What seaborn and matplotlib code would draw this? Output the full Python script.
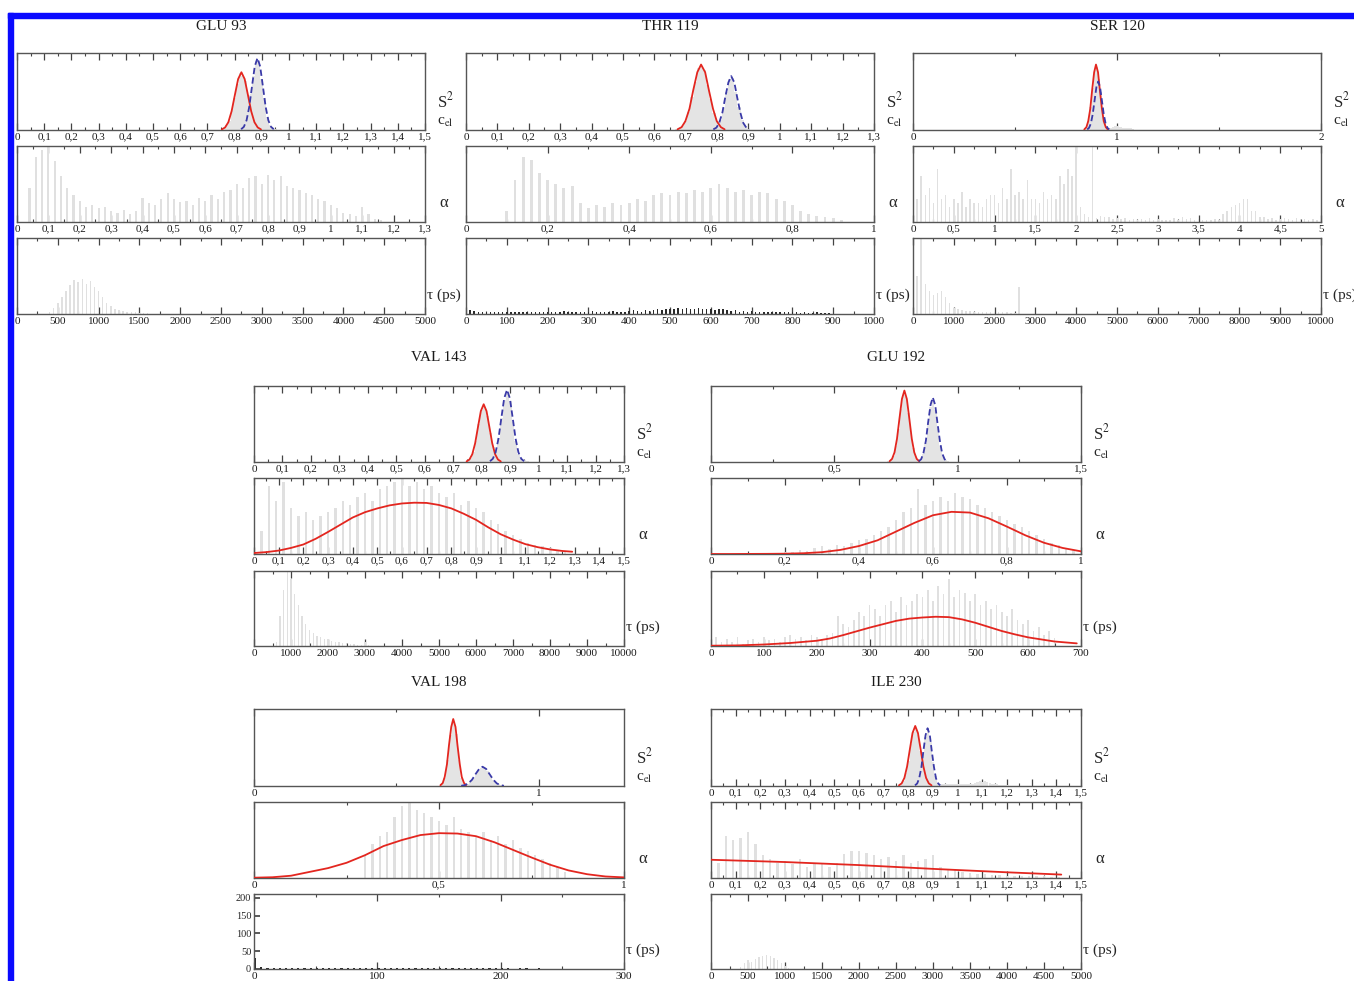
import numpy as np
import pandas as pd
import matplotlib.pyplot as plt
from matplotlib.patches import Rectangle
from matplotlib.ticker import MultipleLocator, FuncFormatter
import seaborn as sns

# ---------------- data ----------------
# heights are fractions of each panel height (panels have no y scale)
# bins = (first bin centre, bin step)

residues = ["GLU 93", "THR 119", "SER 120", "VAL 143", "GLU 192", "VAL 198", "ILE 230"]

# x axis ranges and tick steps: (xmax, major, minor)
s2_axis = [(1.5, 0.1, 0.05), (1.3, 0.1, 0.05), (2, 1, 0.5), (1.3, 0.1, 0.05),
           (1.5, 0.5, 0.25), (1.3, 1, 0.5), (1.5, 0.1, 0.05)]
alpha_axis = [(1.3, 0.1, 0.05), (1.0, 0.2, 0.1), (5, 0.5, 0.25), (1.5, 0.1, 0.05),
              (1.0, 0.2, 0.1), (1.0, 0.5, 0.25), (1.5, 0.1, 0.05)]
tau_axis = [(5000, 500, 250), (1000, 100, 50), (10000, 1000, 500), (10000, 1000, 500),
            (700, 100, 50), (300, 100, 50), (5000, 500, 250)]

# ---- GLU 93
glu93_s2_bins = (0.76, 0.01)
glu93_s2_hist = [0.02, 0.06, 0.12, 0.27, 0.42, 0.6, 0.74, 0.7, 0.63, 0.45, 0.47, 0.7, 0.9, 0.9,
                 0.66, 0.42, 0.17, 0.07, 0.03, 0.01]
glu93_s2_red_x = [0.753, 0.765, 0.777, 0.789, 0.801, 0.813, 0.825, 0.837, 0.849, 0.861, 0.873, 0.885, 0.897]
glu93_s2_red_y = [0.008, 0.033, 0.101, 0.244, 0.455, 0.662, 0.75, 0.662, 0.455, 0.244, 0.101, 0.033, 0.008]
glu93_s2_blue_x = [0.824, 0.834, 0.844, 0.854, 0.864, 0.874, 0.884, 0.894, 0.904, 0.914, 0.924, 0.934, 0.944]
glu93_s2_blue_y = [0.010, 0.041, 0.126, 0.304, 0.568, 0.825, 0.935, 0.825, 0.568, 0.304, 0.126, 0.041, 0.010]
glu93_alpha_bins = (0.04, 0.02)
glu93_alpha_hist = [0.45, 0.85, 0.95, 1.0, 0.8, 0.6, 0.45, 0.35, 0.28, 0.2, 0.22, 0.18, 0.2, 0.14,
                    0.12, 0.16, 0.1, 0.14, 0.32, 0.25, 0.22, 0.3, 0.38, 0.3, 0.26, 0.28, 0.22, 0.32,
                    0.28, 0.35, 0.3, 0.4, 0.42, 0.5, 0.45, 0.58, 0.6, 0.5, 0.62, 0.55, 0.6, 0.48,
                    0.45, 0.42, 0.38, 0.35, 0.3, 0.28, 0.22, 0.18, 0.12, 0.1, 0.08, 0.2, 0.1, 0.04, 0.02]
glu93_tau_bins = (400, 50)
glu93_tau_hist = [0.03, 0.08, 0.15, 0.22, 0.3, 0.38, 0.45, 0.42, 0.46, 0.4, 0.43, 0.35, 0.3, 0.22,
                  0.15, 0.1, 0.07, 0.05, 0.04, 0.03, 0.02, 0.02, 0.015, 0.01, 0.01]

# ---- THR 119
thr119_s2_bins = (0.67, 0.01)
thr119_s2_hist = [0.01, 0.02, 0.05, 0.12, 0.24, 0.43, 0.62, 0.8, 0.83, 0.78, 0.58, 0.4, 0.22, 0.11,
                  0.13, 0.28, 0.5, 0.66, 0.67, 0.5, 0.3, 0.13, 0.05, 0.01]
thr119_s2_red_x = [0.674, 0.687, 0.699, 0.712, 0.724, 0.737, 0.749, 0.762, 0.774, 0.787, 0.799, 0.812, 0.824]
thr119_s2_red_y = [0.009, 0.037, 0.115, 0.276, 0.516, 0.750, 0.85, 0.750, 0.516, 0.276, 0.115, 0.037, 0.009]
thr119_s2_blue_x = [0.788, 0.798, 0.807, 0.817, 0.826, 0.836, 0.845, 0.855, 0.864, 0.874, 0.883, 0.893, 0.902]
thr119_s2_blue_y = [0.008, 0.031, 0.095, 0.228, 0.425, 0.617, 0.70, 0.617, 0.425, 0.228, 0.095, 0.031, 0.008]
thr119_alpha_bins = (0.10, 0.02)
thr119_alpha_hist = [0.15, 0.55, 0.85, 0.82, 0.65, 0.55, 0.5, 0.45, 0.48, 0.25, 0.18, 0.22, 0.2, 0.25,
                     0.22, 0.25, 0.3, 0.28, 0.35, 0.38, 0.36, 0.4, 0.38, 0.42, 0.4, 0.45, 0.5, 0.45,
                     0.4, 0.42, 0.35, 0.4, 0.38, 0.3, 0.28, 0.22, 0.15, 0.1, 0.08, 0.06, 0.05, 0.02]
thr119_tau_bins = (0, 10)
thr119_tau_hist = [0.06, 0.05, 0.04, 0.03, 0.03, 0.02, 0.03, 0.02, 0.02, 0.03,
                   0.02, 0.03, 0.02, 0.02, 0.03, 0.02, 0.03, 0.02, 0.03, 0.02,
                   0.02, 0.03, 0.02, 0.03, 0.04, 0.03, 0.02, 0.03, 0.02, 0.03,
                   0.03, 0.04, 0.03, 0.02, 0.03, 0.03, 0.04, 0.03, 0.03, 0.02,
                   0.04, 0.05, 0.04, 0.03, 0.05, 0.04, 0.05, 0.06, 0.05, 0.06,
                   0.07, 0.06, 0.08, 0.07, 0.08, 0.07, 0.06, 0.08, 0.07, 0.06,
                   0.07, 0.05, 0.06, 0.07, 0.05, 0.04, 0.05, 0.03, 0.04, 0.03,
                   0.04, 0.03, 0.02, 0.03, 0.02, 0.03, 0.02, 0.02, 0.03, 0.02,
                   0.02, 0.02, 0.01, 0.02, 0.01, 0.01, 0.02, 0.01, 0.01, 0.01]

# ---- SER 120
ser120_s2_bins = (0.84, 0.01)
ser120_s2_hist = [0.01, 0.04, 0.12, 0.3, 0.55, 0.78, 0.82, 0.66, 0.5, 0.3, 0.13, 0.05, 0.03, 0.03,
                  0.04, 0.05, 0.05, 0.04, 0.04, 0.03, 0.03, 0.02, 0.02, 0.02, 0.01]
ser120_s2_red_x = [0.840, 0.850, 0.859, 0.869, 0.878, 0.888, 0.897, 0.907, 0.916, 0.926, 0.935, 0.945, 0.954]
ser120_s2_red_y = [0.009, 0.037, 0.115, 0.276, 0.516, 0.750, 0.85, 0.750, 0.516, 0.276, 0.115, 0.037, 0.009]
ser120_s2_blue_x = [0.854, 0.863, 0.872, 0.881, 0.890, 0.899, 0.908, 0.917, 0.926, 0.935, 0.944, 0.953, 0.962]
ser120_s2_blue_y = [0.007, 0.028, 0.085, 0.205, 0.382, 0.556, 0.63, 0.556, 0.382, 0.205, 0.085, 0.028, 0.007]
ser120_alpha_bins = (0.0, 0.05)
ser120_alpha_hist = [0.5, 0.3, 0.6, 0.35, 0.45, 0.25, 0.7, 0.3, 0.35, 0.2, 0.3, 0.25, 0.4, 0.2,
                     0.3, 0.25, 0.25, 0.2, 0.3, 0.35, 0.35, 0.25, 0.45, 0.3, 0.7, 0.35, 0.4, 0.3,
                     0.55, 0.3, 0.3, 0.25, 0.4, 0.3, 0.35, 0.3, 0.6, 0.5, 0.7, 0.6, 1.0, 0.2,
                     0.1, 0.06, 1.0, 0.05, 0.08, 0.06, 0.06, 0.04, 0.05, 0.04, 0.05, 0.03, 0.04,
                     0.03, 0.04, 0.03, 0.05, 0.03, 0.04, 0.03, 0.03, 0.02, 0.05, 0.03, 0.06, 0.04,
                     0.05, 0.03, 0.04, 0.03, 0.03, 0.02, 0.04, 0.03, 0.1, 0.15, 0.2, 0.22, 0.25,
                     0.3, 0.3, 0.15, 0.15, 0.06, 0.06, 0.04, 0.05, 0.03, 0.04, 0.05, 0.04, 0.03,
                     0.05, 0.04, 0.04, 0.03, 0.04, 0.03, 0.03]
ser120_tau_bins = (0, 100)
ser120_tau_hist = [0.3, 0.5, 1.0, 0.4, 0.3, 0.25, 0.28, 0.3, 0.22, 0.15, 0.08, 0.06, 0.05, 0.04,
                   0.04, 0.03, 0.03, 0.02, 0.02, 0.02, 0.02, 0.02, 0.02, 0.03, 0.01, 0.01, 0.36, 0.0]

# ---- VAL 143
val143_s2_bins = (0.74, 0.01)
val143_s2_hist = [0.0, 0.01, 0.05, 0.13, 0.28, 0.5, 0.68, 0.72, 0.6, 0.38, 0.2, 0.14, 0.32, 0.58,
                  0.82, 0.9, 0.8, 0.52, 0.28, 0.11, 0.04, 0.02, 0.01]
val143_s2_red_x = [0.747, 0.757, 0.767, 0.777, 0.787, 0.797, 0.807, 0.817, 0.827, 0.837, 0.847, 0.857, 0.867]
val143_s2_red_y = [0.008, 0.033, 0.103, 0.247, 0.461, 0.670, 0.76, 0.670, 0.461, 0.247, 0.103, 0.033, 0.008]
val143_s2_blue_x = [0.829, 0.839, 0.849, 0.859, 0.869, 0.879, 0.889, 0.899, 0.909, 0.919, 0.929, 0.939, 0.949]
val143_s2_blue_y = [0.010, 0.042, 0.128, 0.309, 0.577, 0.838, 0.95, 0.838, 0.577, 0.309, 0.128, 0.042, 0.010]
val143_alpha_bins = (0.03, 0.03)
val143_alpha_hist = [0.3, 0.9, 0.7, 0.95, 0.6, 0.5, 0.55, 0.45, 0.5, 0.55, 0.6, 0.7, 0.65, 0.75, 0.8,
                     0.7, 0.85, 0.9, 0.95, 1.0, 0.9, 0.95, 0.85, 0.9, 0.8, 0.75, 0.8, 0.65, 0.7, 0.6,
                     0.55, 0.45, 0.4, 0.3, 0.25, 0.2, 0.15, 0.12, 0.1, 0.08, 0.05, 0.03]
val143_alpha_red_x = [0.0, 0.05, 0.1, 0.15, 0.2, 0.25, 0.3, 0.35, 0.4, 0.45, 0.5, 0.55, 0.6, 0.65,
                      0.7, 0.75, 0.8, 0.85, 0.9, 0.95, 1.0, 1.05, 1.1, 1.15, 1.2, 1.25, 1.29]
val143_alpha_red_y = [0.013, 0.025, 0.045, 0.08, 0.125, 0.2, 0.29, 0.385, 0.48, 0.55, 0.6, 0.64, 0.665,
                      0.675, 0.672, 0.645, 0.6, 0.53, 0.45, 0.35, 0.26, 0.19, 0.13, 0.09, 0.06, 0.04, 0.03]
val143_tau_bins = (600, 100)
val143_tau_hist = [0.05, 0.4, 0.75, 1.0, 0.9, 0.7, 0.55, 0.4, 0.3, 0.22, 0.18, 0.14, 0.12, 0.1, 0.09,
                   0.07, 0.06, 0.05, 0.04, 0.04, 0.03, 0.03, 0.02, 0.02, 0.05, 0.01]

# ---- GLU 192
glu192_s2_bins = (0.72, 0.01)
glu192_s2_hist = [0.01, 0.02, 0.08, 0.21, 0.44, 0.7, 0.88, 0.86, 0.65, 0.38, 0.18, 0.06, 0.02, 0.03,
                  0.1, 0.25, 0.5, 0.72, 0.8, 0.68, 0.44, 0.21, 0.08, 0.02, 0.01]
glu192_s2_red_x = [0.724, 0.734, 0.744, 0.754, 0.764, 0.774, 0.784, 0.794, 0.804, 0.814, 0.824, 0.834, 0.844]
glu192_s2_red_y = [0.010, 0.041, 0.127, 0.306, 0.571, 0.829, 0.94, 0.829, 0.571, 0.306, 0.127, 0.041, 0.010]
glu192_s2_blue_x = [0.842, 0.852, 0.861, 0.871, 0.880, 0.890, 0.899, 0.909, 0.918, 0.928, 0.937, 0.947, 0.956]
glu192_s2_blue_y = [0.009, 0.037, 0.115, 0.276, 0.516, 0.750, 0.85, 0.750, 0.516, 0.276, 0.115, 0.037, 0.009]
glu192_alpha_bins = (0.20, 0.02)
glu192_alpha_hist = [0.02, 0.03, 0.05, 0.04, 0.08, 0.1, 0.06, 0.12, 0.1, 0.15, 0.18, 0.2, 0.25, 0.3,
                     0.35, 0.45, 0.55, 0.6, 0.85, 0.65, 0.7, 0.75, 0.7, 0.8, 0.75, 0.72, 0.65, 0.6,
                     0.55, 0.5, 0.45, 0.4, 0.35, 0.3, 0.25, 0.2, 0.15, 0.12, 0.08, 0.05, 0.03]
glu192_alpha_red_x = [0.0, 0.05, 0.1, 0.15, 0.2, 0.25, 0.3, 0.35, 0.4, 0.45, 0.5, 0.55, 0.6, 0.65,
                      0.7, 0.75, 0.8, 0.85, 0.9, 0.95, 1.0]
glu192_alpha_red_y = [0.0, 0.0, 0.001, 0.002, 0.004, 0.01, 0.024, 0.054, 0.105, 0.18, 0.295, 0.41,
                      0.51, 0.555, 0.545, 0.47, 0.36, 0.245, 0.148, 0.08, 0.035]
glu192_tau_bins = (0, 10)
glu192_tau_hist = [0.1, 0.12, 0.05, 0.1, 0.05, 0.12, 0.03, 0.08, 0.1, 0.05,
                   0.12, 0.08, 0.1, 0.05, 0.12, 0.15, 0.1, 0.12, 0.08, 0.15,
                   0.12, 0.1, 0.15, 0.18, 0.4, 0.3, 0.25, 0.35, 0.45, 0.4,
                   0.55, 0.5, 0.4, 0.55, 0.6, 0.45, 0.65, 0.55, 0.6, 0.7,
                   0.65, 0.75, 0.6, 0.8, 0.7, 0.9, 0.65, 0.75, 0.7, 0.6,
                   0.7, 0.55, 0.6, 0.5, 0.55, 0.45, 0.4, 0.5, 0.35, 0.3,
                   0.35, 0.2, 0.25, 0.15, 0.2, 0.1]
glu192_tau_red_x = [0, 50, 100, 150, 200, 225, 250, 275, 300, 325, 350, 375, 400, 425, 450, 475,
                    500, 525, 550, 575, 600, 650, 692]
glu192_tau_red_y = [0.004, 0.008, 0.02, 0.04, 0.07, 0.1, 0.145, 0.195, 0.245, 0.29, 0.335, 0.365,
                    0.38, 0.39, 0.385, 0.355, 0.31, 0.255, 0.2, 0.155, 0.115, 0.06, 0.035]

# ---- VAL 198
val198_s2_bins = (0.65, 0.01)
val198_s2_hist = [0.0, 0.02, 0.11, 0.34, 0.66, 0.84, 0.68, 0.34, 0.11, 0.03, 0.03, 0.06, 0.1, 0.16,
                  0.21, 0.24, 0.23, 0.19, 0.13, 0.08, 0.04, 0.02, 0.01, 0.0]
val198_s2_red_x = [0.655, 0.663, 0.670, 0.678, 0.685, 0.693, 0.700, 0.708, 0.715, 0.723, 0.730, 0.738, 0.745]
val198_s2_red_y = [0.010, 0.038, 0.117, 0.283, 0.528, 0.767, 0.87, 0.767, 0.528, 0.283, 0.117, 0.038, 0.010]
val198_s2_blue_x = [0.728, 0.741, 0.753, 0.766, 0.778, 0.791, 0.803, 0.816, 0.828, 0.841, 0.853, 0.866, 0.878]
val198_s2_blue_y = [0.003, 0.011, 0.034, 0.081, 0.152, 0.221, 0.25, 0.221, 0.152, 0.081, 0.034, 0.011, 0.003]
val198_alpha_bins = (0.30, 0.02)
val198_alpha_hist = [0.3, 0.45, 0.55, 0.6, 0.8, 0.95, 1.0, 0.9, 0.85, 0.8, 0.75, 0.7, 0.8, 0.65, 0.6,
                     0.55, 0.6, 0.5, 0.55, 0.45, 0.5, 0.4, 0.35, 0.3, 0.25, 0.2, 0.15, 0.08]
val198_alpha_red_x = [0.0, 0.05, 0.1, 0.15, 0.2, 0.25, 0.3, 0.35, 0.4, 0.45, 0.5, 0.55, 0.6, 0.65,
                      0.7, 0.75, 0.8, 0.85, 0.9, 0.95, 1.0]
val198_alpha_red_y = [0.004, 0.01, 0.03, 0.08, 0.13, 0.2, 0.3, 0.42, 0.5, 0.565, 0.59, 0.585, 0.55,
                      0.47, 0.37, 0.27, 0.175, 0.1, 0.05, 0.02, 0.008]
val198_tau_bins = (1, 5)   # this panel has a real count axis (0-200)
val198_tau_hist = [30, 6, 4, 3, 3, 2, 3, 2, 2, 3, 2, 2, 3, 2, 2, 2, 3, 2, 2, 2, 3, 2, 3, 3, 2, 2,
                   3, 2, 3, 3, 2, 2, 3, 2, 2, 3, 2, 2, 2, 3, 2, 2, 1, 2, 2, 1, 2, 1, 1, 1, 1]

# ---- ILE 230
ile230_s2_bins = (0.76, 0.01)
ile230_s2_hist = [0.01, 0.02, 0.07, 0.17, 0.33, 0.54, 0.7, 0.75, 0.66, 0.46, 0.42, 0.64, 0.72, 0.57,
                  0.31, 0.13, 0.04, 0.03, 0.03, 0.02, 0.03, 0.02, 0.03, 0.02, 0.02, 0.02, 0.03, 0.02,
                  0.02, 0.03, 0.03, 0.04, 0.05, 0.06, 0.05, 0.06, 0.05, 0.04, 0.03, 0.02, 0.02, 0.01,
                  0.01, 0.01, 0.01]
ile230_s2_red_x = [0.762, 0.773, 0.784, 0.795, 0.806, 0.817, 0.828, 0.839, 0.850, 0.861, 0.872, 0.883, 0.894]
ile230_s2_red_y = [0.009, 0.034, 0.105, 0.254, 0.473, 0.688, 0.78, 0.688, 0.473, 0.254, 0.105, 0.034, 0.009]
ile230_s2_blue_x = [0.827, 0.836, 0.844, 0.853, 0.861, 0.870, 0.878, 0.887, 0.895, 0.904, 0.912, 0.921, 0.929]
ile230_s2_blue_y = [0.008, 0.033, 0.101, 0.244, 0.455, 0.662, 0.75, 0.662, 0.455, 0.244, 0.101, 0.033, 0.008]
ile230_alpha_bins = (0.03, 0.03)
ile230_alpha_hist = [0.2, 0.55, 0.5, 0.52, 0.6, 0.45, 0.3, 0.25, 0.2, 0.22, 0.18, 0.25, 0.15, 0.2,
                     0.18, 0.15, 0.2, 0.32, 0.36, 0.35, 0.33, 0.3, 0.25, 0.28, 0.22, 0.3, 0.2, 0.22,
                     0.25, 0.3, 0.15, 0.12, 0.1, 0.08, 0.06, 0.05, 0.05, 0.04, 0.04, 0.03, 0.03, 0.03,
                     0.02, 0.02, 0.02, 0.01, 0.01]
ile230_alpha_red_x = [0.0, 0.3, 0.6, 0.9, 1.2, 1.42]
ile230_alpha_red_y = [0.24, 0.21, 0.17, 0.12, 0.075, 0.045]
ile230_tau_bins = (400, 50)
ile230_tau_hist = [0.03, 0.08, 0.12, 0.1, 0.14, 0.16, 0.18, 0.19, 0.17, 0.15, 0.12, 0.08, 0.04, 0.02]

# ---------------- styling / layout ----------------
RED = "#e3261f"
BLUE = "#3a3aa8"
GREY = "#e0e0e0"
FILL = "#e4e4e4"
DARK = "#2a2a2a"
W, H = 1354, 981

sns.set_theme(style="white")
plt.rcParams["font.family"] = ["Liberation Serif", "DejaVu Serif"]
plt.rcParams["mathtext.fontset"] = "stix"

fig = plt.figure(figsize=(W / 100, H / 100), dpi=100)
fig.patch.set_facecolor("white")

# blue frame strips at top and left
fig.patches.append(Rectangle((8 / W, 1 - 18 / H), (W - 8) / W, 5 / H,
                             transform=fig.transFigure, color="#0a0aff", zorder=10))
fig.patches.append(Rectangle((8 / W, 0), 5 / W, (H - 13) / H,
                             transform=fig.transFigure, color="#0a0aff", zorder=10))

# (left px, width px, row)
col_pos = [(17, 408, 0), (466, 408, 0), (913, 408, 0), (254, 370, 1), (711, 370, 1),
           (254, 370, 2), (711, 370, 2)]
row_y = [[(53, 130), (146, 222), (238, 314)],
         [(386, 462), (478, 554), (571, 646)],
         [(709, 786), (802, 878), (894, 969)]]
title_y = [26, 358, 682]

keys = ["glu93", "thr119", "ser120", "val143", "glu192", "val198", "ile230"]
g = globals()


def fmt(v, pos):
    s = ("%.4f" % v).rstrip("0").rstrip(".")
    return s.replace(".", ",")


def style_axis(ax, xmax, major, minor):
    ax.set_xlim(0, xmax)
    ax.xaxis.set_major_locator(MultipleLocator(major))
    ax.xaxis.set_minor_locator(MultipleLocator(minor))
    ax.xaxis.set_major_formatter(FuncFormatter(fmt))
    ax.tick_params(axis="x", which="major", direction="in", length=5, width=0.9,
                   top=True, bottom=True, labelsize=8, pad=2, color="#444444",
                   labelcolor="#1a1a1a")
    ax.tick_params(axis="x", which="minor", direction="in", length=2.5, width=0.8,
                   top=True, bottom=True, color="#444444")
    ax.set_yticks([])
    ax.set_xlabel("")
    ax.set_ylabel("")
    for s in ax.spines.values():
        s.set_color("#555555")
        s.set_linewidth(1.0)


def hist(ax, bins, h, color, shrink):
    lo, step = bins
    centers = lo + step * np.arange(len(h))
    edges = list(np.append(centers - step / 2, centers[-1] + step / 2))
    df = pd.DataFrame({"x": centers, "w": h})
    sns.histplot(data=df, x="x", weights="w", bins=edges, ax=ax, color=color, alpha=1,
                 linewidth=0, edgecolor="none", shrink=shrink, zorder=1)


def curve(ax, xs, ys, color, dashed=False):
    ls = (0, (3.5, 1.8)) if dashed else "-"
    df = pd.DataFrame({"x": xs, "y": ys})
    sns.lineplot(data=df, x="x", y="y", ax=ax, color=color, linewidth=1.3, linestyle=ls,
                 estimator=None, sort=False, zorder=3)


for i, name in enumerate(residues):
    k = keys[i]
    left, width, row = col_pos[i]
    fig.text((left + width / 2) / W, 1 - title_y[row] / H, name,
             ha="center", va="center", fontsize=11, color="#1a1a1a")
    axes = []
    for (y0, y1) in row_y[row]:
        axes.append(fig.add_axes([left / W, 1 - y1 / H, width / W, (y1 - y0) / H]))
    ax_s2, ax_a, ax_t = axes

    # S2 / c_el
    hist(ax_s2, g[k + "_s2_bins"], g[k + "_s2_hist"], FILL, 1.0)
    curve(ax_s2, g[k + "_s2_red_x"], g[k + "_s2_red_y"], RED)
    curve(ax_s2, g[k + "_s2_blue_x"], g[k + "_s2_blue_y"], BLUE, dashed=True)
    ax_s2.set_ylim(0, 1.0)
    style_axis(ax_s2, *s2_axis[i])

    # alpha
    hist(ax_a, g[k + "_alpha_bins"], g[k + "_alpha_hist"], GREY, 0.35)
    if k + "_alpha_red_x" in g:
        curve(ax_a, g[k + "_alpha_red_x"], g[k + "_alpha_red_y"], RED)
    ax_a.set_ylim(0, 1.0)
    style_axis(ax_a, *alpha_axis[i])

    # tau
    tcol = DARK if k in ("thr119", "val198") else GREY
    hist(ax_t, g[k + "_tau_bins"], g[k + "_tau_hist"], tcol, 0.35)
    if k + "_tau_red_x" in g:
        curve(ax_t, g[k + "_tau_red_x"], g[k + "_tau_red_y"], RED)
    style_axis(ax_t, *tau_axis[i])
    if k == "val198":
        ax_t.set_ylim(0, 211)
        ax_t.set_yticks([0, 50, 100, 150, 200])
        ax_t.tick_params(axis="y", direction="in", length=4, left=True, labelleft=True,
                         labelsize=7.5, pad=2, color="#444444")
    else:
        ax_t.set_ylim(0, 1.0)

    # labels on the right
    off = 1 + 12 / width
    ax_s2.text(off, 0.37, r"S$^2$", transform=ax_s2.transAxes, fontsize=12,
               ha="left", va="center")
    ax_s2.text(off, 0.10, r"c$_{\rm el}$", transform=ax_s2.transAxes, fontsize=11,
               ha="left", va="center")
    ax_a.text(1 + 14 / width, 0.25, "α", transform=ax_a.transAxes, fontsize=12,
              ha="left", va="center")
    ax_t.text(1 + 2 / width, 0.25, "τ (ps)", transform=ax_t.transAxes, fontsize=11,
              ha="left", va="center")

fig.savefig("out.png", dpi=100)
